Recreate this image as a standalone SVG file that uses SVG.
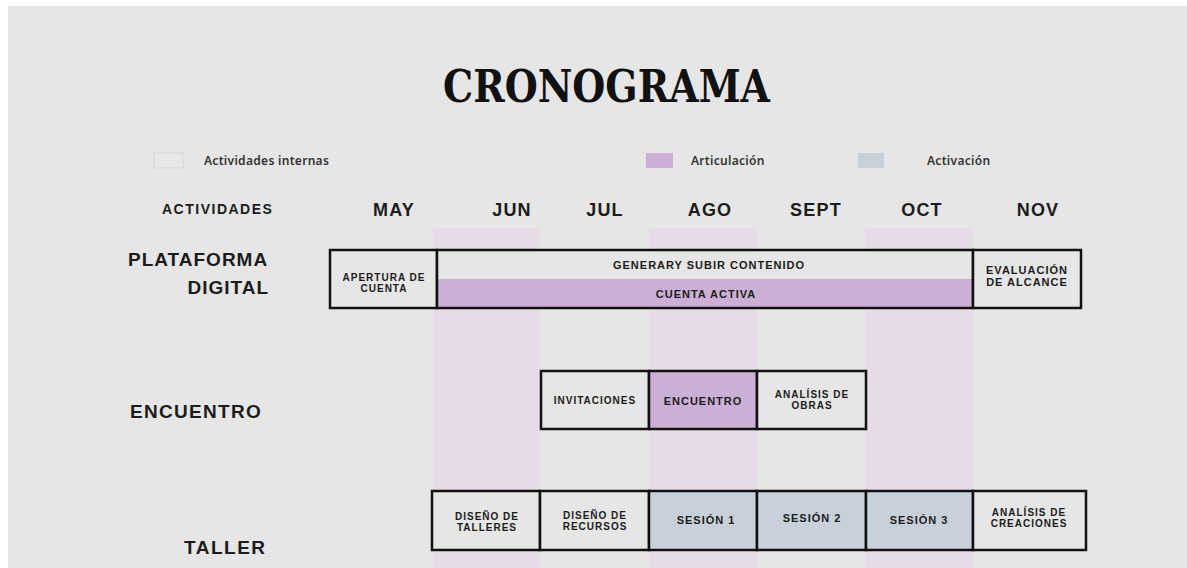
<svg xmlns="http://www.w3.org/2000/svg" width="1187" height="568" viewBox="0 0 1187 568">
<style>
.lbl{font-family:"Liberation Sans",Arial,sans-serif;font-weight:bold;fill:#1c1c1c;}
.row{font-size:19px;letter-spacing:1px;}
.hdr{font-size:14px;letter-spacing:1.5px;}
.mon{font-size:18px;letter-spacing:1.2px;text-anchor:middle;}
.bx{font-size:10px;letter-spacing:1px;text-anchor:middle;}
.bx11{font-size:11px;letter-spacing:1px;text-anchor:middle;}
.leg{font-family:"Noto Sans","Open Sans",sans-serif;font-weight:600;font-size:12px;fill:#333;letter-spacing:0.3px;}
.box{stroke:#111;stroke-width:2.5;}
.plain{fill:#e6e6e6;}
.art{fill:#ccafd4;}
.act{fill:#c8d0da;}
.stripe{fill:#e8dbe8;}
</style>
<rect x="0" y="0" width="1187" height="568" fill="#ffffff"/>
<rect x="8" y="6" width="1179" height="562" fill="#e6e6e6"/>

<g id="stripes">
<rect class="stripe" x="433" y="228" width="107" height="340"/>
<rect class="stripe" x="649" y="228" width="108" height="340"/>
<rect class="stripe" x="865" y="228" width="108" height="340"/>
</g>

<g id="title">
<text x="443" y="102" textLength="327" lengthAdjust="spacingAndGlyphs" font-family="DejaVu Serif,Liberation Serif,serif" font-weight="bold" font-size="44" fill="#111">CRONOGRAMA</text>
</g>

<g id="legend">
<rect x="154" y="153" width="29" height="15" fill="#e8e8e8" stroke="#d6d6d6" stroke-width="1"/>
<text class="leg" x="204" y="165">Actividades internas</text>
<rect x="646" y="153" width="27" height="15" class="art"/>
<text class="leg" x="691" y="165">Articulación</text>
<rect x="858" y="153" width="26" height="15" class="act"/>
<text class="leg" x="927" y="165">Activación</text>
</g>

<g id="headers">
<text class="lbl hdr" x="162" y="214">ACTIVIDADES</text>
<text class="lbl mon" x="394" y="216">MAY</text>
<text class="lbl mon" x="512" y="216">JUN</text>
<text class="lbl mon" x="605" y="216">JUL</text>
<text class="lbl mon" x="710" y="216">AGO</text>
<text class="lbl mon" x="816" y="216">SEPT</text>
<text class="lbl mon" x="922" y="216">OCT</text>
<text class="lbl mon" x="1038" y="216">NOV</text>
</g>

<g id="row-plataforma">
<text class="lbl row" x="128" y="266">PLATAFORMA</text>
<text class="lbl row" x="269" y="294" text-anchor="end">DIGITAL</text>
</g>
<g id="apertura">
<rect class="box plain" x="330" y="250" width="107" height="58"/>
<text class="lbl bx" x="384" y="281">APERTURA DE</text>
<text class="lbl bx" x="384" y="292">CUENTA</text>
</g>
<g id="generar">
<rect class="plain" x="437" y="250" width="536" height="29"/>
<text class="lbl bx11" x="709" y="269">GENERARY SUBIR CONTENIDO</text>
</g>
<g id="cuenta-activa">
<rect class="art" x="437" y="279" width="536" height="29"/>
<rect x="437" y="250" width="536" height="58" fill="none" class="box"/>
<text class="lbl bx11" x="706" y="298">CUENTA ACTIVA</text>
</g>
<g id="evaluacion">
<rect class="box plain" x="973" y="250" width="108" height="58"/>
<text class="lbl bx11" x="1027" y="274">EVALUACIÓN</text>
<text class="lbl bx11" x="1027" y="286">DE ALCANCE</text>
</g>

<g id="row-encuentro">
<text class="lbl row" x="130" y="418" style="letter-spacing:1.3px">ENCUENTRO</text>
</g>
<g id="invitaciones">
<rect class="box plain" x="541" y="371" width="108" height="58"/>
<text class="lbl bx" x="595" y="404">INVITACIONES</text>
</g>
<g id="encuentro">
<rect class="box art" x="649" y="371" width="108" height="58"/>
<text class="lbl bx11" x="703" y="405">ENCUENTRO</text>
</g>
<g id="analisis-obras">
<rect class="box plain" x="757" y="371" width="109" height="58"/>
<text class="lbl bx" x="812" y="398">ANALÍSIS DE</text>
<text class="lbl bx" x="812" y="409">OBRAS</text>
</g>

<g id="row-taller">
<text class="lbl row" x="184" y="554" style="letter-spacing:1.5px">TALLER</text>
</g>
<g id="diseno-talleres">
<rect class="box plain" x="432" y="491" width="108" height="59"/>
<text class="lbl bx" x="487" y="520">DISEÑO DE</text>
<text class="lbl bx" x="487" y="531">TALLERES</text>
</g>
<g id="diseno-recursos">
<rect class="box plain" x="540" y="491" width="109" height="59"/>
<text class="lbl bx" x="595" y="519">DISEÑO DE</text>
<text class="lbl bx" x="595" y="530">RECURSOS</text>
</g>
<g id="sesion1">
<rect class="box act" x="649" y="491" width="108" height="59"/>
<text class="lbl bx11" x="706" y="524">SESIÓN 1</text>
</g>
<g id="sesion2">
<rect class="box act" x="757" y="491" width="109" height="59"/>
<text class="lbl bx11" x="812" y="522">SESIÓN 2</text>
</g>
<g id="sesion3">
<rect class="box act" x="866" y="491" width="107" height="59"/>
<text class="lbl bx11" x="919" y="524">SESIÓN 3</text>
</g>
<g id="analisis-creaciones">
<rect class="box plain" x="973" y="491" width="113" height="59"/>
<text class="lbl bx" x="1029" y="516">ANALÍSIS DE</text>
<text class="lbl bx" x="1029" y="527">CREACIONES</text>
</g>

<g id="connectors"></g>
</svg>
